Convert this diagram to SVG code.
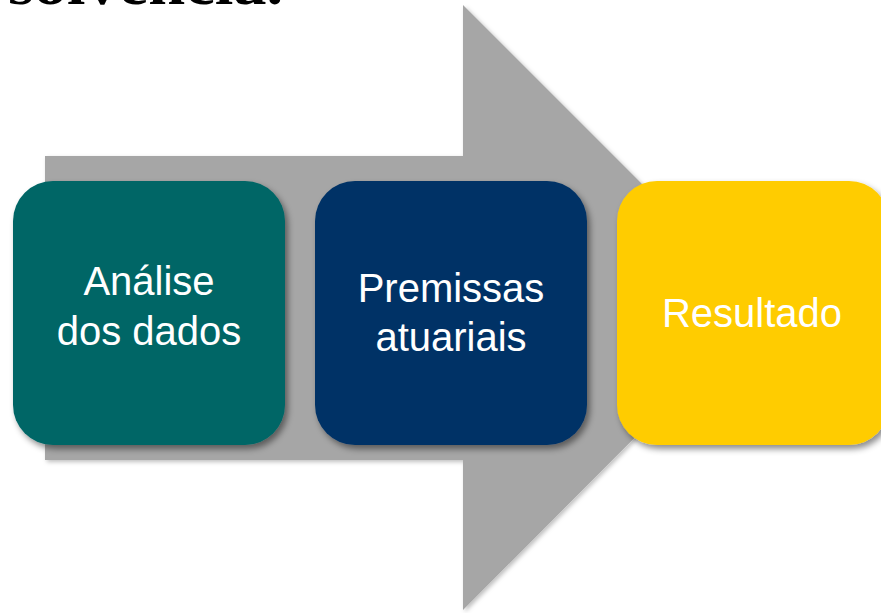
<svg xmlns="http://www.w3.org/2000/svg" width="881" height="613" viewBox="0 0 881 613">
  <defs>
    <filter id="sh" x="-20%" y="-20%" width="140%" height="140%">
      <feDropShadow dx="3" dy="4" stdDeviation="3" flood-color="#000" flood-opacity="0.45"/>
    </filter>
    <filter id="sha" x="-10%" y="-10%" width="120%" height="120%">
      <feDropShadow dx="2" dy="2" stdDeviation="2" flood-color="#000" flood-opacity="0.25"/>
    </filter>
  </defs>
  <style>
    .lbl { font-family: "Liberation Sans", Arial, sans-serif; font-size: 40px; fill: #ffffff; text-anchor: middle; }
    .box { filter: url(#sh); }
  </style>
  <rect width="881" height="613" fill="#ffffff"/>
  <text x="8" y="4" font-family="'Liberation Serif', 'Times New Roman', serif" font-weight="bold" font-size="60" textLength="275" lengthAdjust="spacingAndGlyphs" fill="#000000">solvência.</text>
  <g id="connectors">
    <polygon id="arrow" points="45,156 463,156 463,5 765,307 463,610 463,460 45,460" fill="#a6a6a6" filter="url(#sha)"/>
  </g>
  <g id="node-analise">
    <rect class="box" x="13" y="181" width="272" height="264" rx="40" ry="40" fill="#006666"/>
    <text class="lbl" x="149" y="295">Análise</text>
    <text class="lbl" x="149" y="345">dos dados</text>
  </g>
  <g id="node-premissas">
    <rect class="box" x="315" y="181" width="272" height="264" rx="40" ry="40" fill="#003366"/>
    <text class="lbl" x="451" y="302">Premissas</text>
    <text class="lbl" x="451" y="351">atuariais</text>
  </g>
  <g id="node-resultado">
    <rect class="box" x="617" y="181" width="272" height="264" rx="40" ry="40" fill="#ffcc00"/>
    <text class="lbl" x="752" y="327">Resultado</text>
  </g>
</svg>
